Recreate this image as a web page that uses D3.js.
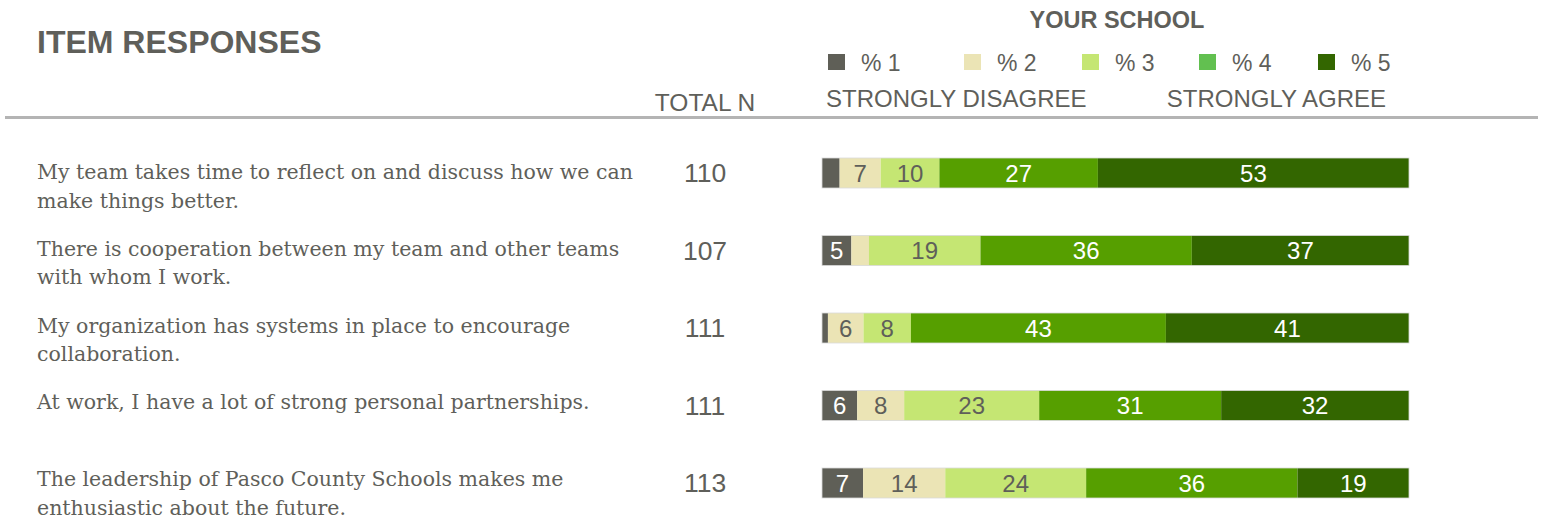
<!DOCTYPE html>
<html>
<head>
<meta charset="utf-8">
<script src="https://cdn.jsdelivr.net/npm/d3@7"></script>
<style>
  body { margin: 0; background: #fff; }
  svg { display: block; }
  .sans { font-family: "Liberation Sans", Arial, sans-serif; }
  .serif { font-family: "DejaVu Serif", Georgia, serif; }
</style>
</head>
<body>
<div id="chart"></div>
<script>
// data
const items = [
  ["My team takes time to reflect on and discuss how we can", "make things better."],
  ["There is cooperation between my team and other teams", "with whom I work."],
  ["My organization has systems in place to encourage", "collaboration."],
  ["At work, I have a lot of strong personal partnerships."],
  ["The leadership of Pasco County Schools makes me", "enthusiastic about the future."]
];
const totalN = [110, 107, 111, 111, 113];
const pct1 = [3, 5, 1, 6, 7];
const pct2 = [7, 3, 6, 8, 14];
const pct3 = [10, 19, 8, 23, 24];
const pct4 = [27, 36, 43, 31, 36];
const pct5 = [53, 37, 41, 32, 19];
const keys = ["% 1", "% 2", "% 3", "% 4", "% 5"];

const width = 1543;
const height = 521;
const textColor = "#5f5f5a";

const barColor = ["#5f5f57", "#ebe4b5", "#c5e673", "#569f00", "#336600"];
const legendColor = ["#5f5f57", "#ebe4b5", "#c5e673", "#62c050", "#336600"];
const labelColor = ["#fff", textColor, textColor, "#fff", "#fff"];
const legendX = [828, 964, 1082, 1199, 1318];

const rows = items.map((lines, i) => ({
  id: i,
  lines: lines,
  n: totalN[i],
  vals: [pct1[i], pct2[i], pct3[i], pct4[i], pct5[i]]
}));

const svg = d3.select("#chart")
  .append("svg")
  .attr("width", width)
  .attr("height", height);

const x = d3.scaleLinear().domain([0, 100]).range([822, 1409]);
const y = d3.scalePoint().domain(rows.map(d => d.id)).range([173, 483]);
const yLabel = d3.scalePoint().domain(rows.map(d => d.id)).range([172, 479]);
const barH = 30;

// header
svg.append("text")
  .attr("class", "sans")
  .attr("x", 37)
  .attr("y", 53)
  .text("ITEM RESPONSES")
  .style("font-size", "32px")
  .style("font-weight", "bold")
  .style("fill", textColor);

svg.append("text")
  .attr("class", "sans")
  .attr("x", 705)
  .attr("y", 111)
  .attr("text-anchor", "middle")
  .text("TOTAL N")
  .style("font-size", "24.5px")
  .style("fill", textColor);

svg.append("text")
  .attr("class", "sans")
  .attr("x", 1117)
  .attr("y", 28)
  .attr("text-anchor", "middle")
  .text("YOUR SCHOOL")
  .style("font-size", "23.5px")
  .style("font-weight", "bold")
  .style("fill", textColor);

// legend
const legend = svg.append("g");
keys.forEach((k, i) => {
  const g = legend.append("g").attr("transform", `translate(${legendX[i]}, 54)`);
  g.append("rect")
    .attr("width", 17)
    .attr("height", 16)
    .attr("fill", legendColor[i]);
  g.append("text")
    .attr("class", "sans")
    .attr("x", 33)
    .attr("y", 17)
    .text(k)
    .style("font-size", "23px")
    .style("fill", textColor);
});

svg.append("text")
  .attr("class", "sans")
  .attr("x", 826)
  .attr("y", 107)
  .text("STRONGLY DISAGREE")
  .style("font-size", "24px")
  .style("fill", textColor);

svg.append("text")
  .attr("class", "sans")
  .attr("x", 1386)
  .attr("y", 107)
  .attr("text-anchor", "end")
  .text("STRONGLY AGREE")
  .style("font-size", "24px")
  .style("fill", textColor);

svg.append("rect")
  .attr("x", 5)
  .attr("y", 116)
  .attr("width", 1533)
  .attr("height", 3)
  .attr("fill", "#b4b4b4");

// item labels
const rowG = svg.selectAll(".row")
  .data(rows)
  .enter()
  .append("g")
  .attr("class", "row");

rowG.append("text")
  .attr("class", "serif")
  .attr("x", 37)
  .attr("y", d => yLabel(d.id) + 7)
  .style("font-size", "20.5px")
  .style("fill", textColor)
  .selectAll("tspan")
  .data(d => d.lines)
  .enter()
  .append("tspan")
  .attr("x", 37)
  .attr("dy", (d, i) => i === 0 ? 0 : 28.5)
  .text(d => d);

rowG.append("text")
  .attr("class", "sans")
  .attr("x", 705)
  .attr("y", d => y(d.id) + 9)
  .attr("text-anchor", "middle")
  .text(d => d.n)
  .style("font-size", "26.5px")
  .style("fill", textColor);

// stacked bars (each row scaled to its own rounded total)
const segs = rowG.selectAll(".seg")
  .data(d => {
    const total = d3.sum(d.vals);
    let acc = 0;
    return d.vals.map((v, i) => {
      const s = { row: d.id, k: i, v: v, x0: acc / total * 100, x1: (acc + v) / total * 100 };
      acc += v;
      return s;
    });
  })
  .enter()
  .append("g")
  .attr("class", "seg");

segs.append("rect")
  .attr("x", d => x(d.x0))
  .attr("y", d => y(d.row) - barH / 2)
  .attr("width", d => x(d.x1) - x(d.x0))
  .attr("height", barH)
  .attr("fill", d => barColor[d.k]);

segs.filter(d => d.v >= 4)
  .append("text")
  .attr("class", "sans")
  .attr("x", d => (x(d.x0) + x(d.x1)) / 2)
  .attr("y", d => y(d.row) + 8.5)
  .attr("text-anchor", "middle")
  .text(d => d.v)
  .style("font-size", "24px")
  .style("fill", d => labelColor[d.k]);

// thin outline around each bar
rowG.append("rect")
  .attr("x", x(0))
  .attr("y", d => y(d.id) - barH / 2)
  .attr("width", x(100) - x(0))
  .attr("height", barH)
  .attr("fill", "none")
  .attr("stroke", "#d9d9d9")
  .attr("stroke-width", 0.8);
</script>
</body>
</html>
